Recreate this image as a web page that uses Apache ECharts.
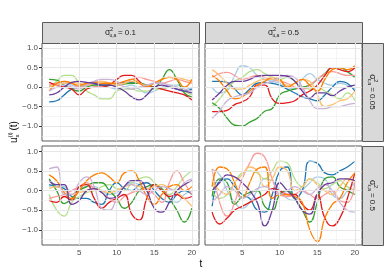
<!DOCTYPE html>
<html><head><meta charset="utf-8">
<script src="https://cdn.jsdelivr.net/npm/echarts@6/dist/echarts.min.js"></script>
<style>html,body{margin:0;padding:0;background:#fff}#c{width:389px;height:275px}</style>
</head><body><div id="c"></div>
<script>
const t = [1,2,3,4,5,6,7,8,9,10,11,12,13,14,15,16,17,18,19,20];
const seriesColors = ['#A6CEE3','#1F78B4','#B2DF8A','#33A02C','#FB9A99','#E31A1C','#FDBF6F','#FF7F00','#CAB2D6','#6A3D9A'];
const colValues = ['0.1','0.5'];
const rowValues = ['0.05','0.5'];
const yTicks = [-1,-0.5,0,0.5,1];
const yMinor = [-1.25,-0.75,-0.25,0.25,0.75];
const xTicks = [5,10,15,20];
const xMinor = [2.5,7.5,12.5,17.5];

// panel: sigma_ua = 0.1, sigma_e = 0.05
const panelTL = [
 [0.05,0.08,0.1,0.05,0.0,0.05,0.1,0.05,0.0,-0.05,0.0,0.05,-0.05,-0.15,-0.1,0.0,0.05,0.05,0.0,-0.05],
 [-0.38,-0.35,-0.2,-0.05,0.0,0.05,0.08,0.05,0.05,0.1,0.12,0.12,0.1,0.05,0.0,-0.02,0.0,-0.05,-0.1,-0.05],
 [0.0,0.15,0.3,0.3,0.1,-0.1,-0.2,-0.3,-0.3,-0.1,-0.05,-0.05,-0.1,-0.1,-0.05,-0.05,0.0,0.0,-0.1,-0.2],
 [0.2,0.18,0.05,-0.05,-0.1,0.0,0.05,0.05,0.05,0.05,0.08,0.1,0.1,0.05,0.0,0.2,0.45,0.2,-0.15,-0.25],
 [0.05,0.1,0.15,0.1,0.0,0.05,0.15,0.15,0.1,0.05,0.1,0.2,0.25,0.2,0.15,0.1,0.15,0.2,0.15,0.1],
 [0.12,0.05,0.0,-0.05,-0.2,-0.05,0.0,0.0,0.05,0.2,0.3,0.3,0.15,0.0,0.0,-0.05,-0.1,-0.15,-0.2,-0.33],
 [0.0,0.05,0.1,0.12,0.1,0.05,0.1,0.15,0.1,0.05,0.1,0.15,0.1,0.05,0.1,0.2,0.25,0.25,0.2,0.15],
 [-0.1,0.1,0.15,0.1,0.05,0.1,0.12,0.1,0.1,0.1,0.15,0.2,0.1,0.0,0.1,0.2,0.25,0.2,0.0,0.2],
 [-0.1,0.0,0.05,0.0,-0.05,0.05,0.15,0.2,0.2,0.15,0.0,-0.05,0.0,0.05,0.1,0.1,0.05,0.0,-0.05,-0.1],
 [-0.2,-0.15,0.0,0.12,0.15,0.12,0.1,0.05,0.05,0.0,-0.1,-0.25,-0.33,-0.2,0.0,0.05,0.0,-0.05,-0.1,-0.15]
];
// panel: sigma_ua = 0.5, sigma_e = 0.05
const panelTR = [
 [0.0,-0.15,-0.1,0.3,0.55,0.5,0.3,0.2,0.15,0.1,0.0,-0.05,0.2,0.35,0.2,0.1,0.05,0.1,0.05,-0.05],
 [0.15,0.15,0.12,-0.05,-0.2,-0.05,0.1,0.12,0.1,0.05,-0.05,-0.15,-0.25,-0.3,-0.35,-0.2,0.0,0.15,0.1,-0.1],
 [-0.5,-0.3,-0.05,0.15,0.25,0.4,0.45,0.35,0.25,0.2,0.25,0.15,0.0,-0.05,0.0,-0.1,-0.2,-0.3,-0.15,-0.35],
 [-0.4,-0.55,-0.8,-0.98,-1.0,-0.9,-0.8,-0.62,-0.55,-0.2,-0.1,-0.05,0.0,0.05,0.2,0.35,0.5,0.5,0.4,0.25],
 [0.25,0.35,0.38,0.3,0.2,0.25,0.3,0.25,0.2,0.15,0.1,0.0,-0.05,0.05,0.2,0.35,0.4,0.35,0.3,0.3],
 [-0.63,-0.63,-0.6,-0.45,-0.38,-0.25,0.05,0.05,-0.3,-0.42,-0.4,-0.35,-0.2,-0.1,0.05,0.3,0.5,0.45,0.4,0.5],
 [0.45,0.3,0.1,-0.05,-0.05,0.05,0.15,0.2,0.2,0.15,0.05,0.1,0.2,0.15,-0.2,-0.5,-0.45,-0.35,-0.3,-0.1],
 [0.3,0.15,-0.1,-0.3,-0.25,-0.1,0.05,0.15,0.25,0.2,0.0,0.1,0.2,0.05,-0.1,0.2,0.45,0.5,0.45,0.55],
 [-0.8,-0.6,-0.35,-0.25,-0.2,-0.15,0.0,0.1,0.15,0.25,0.3,0.25,0.0,-0.35,-0.55,-0.55,-0.5,-0.5,-0.45,-0.42],
 [-0.33,-0.15,0.05,0.15,0.15,0.2,0.28,0.3,0.3,0.3,0.28,0.15,-0.1,-0.28,-0.15,-0.15,-0.22,-0.1,0.0,0.05]
];
// panel: sigma_ua = 0.1, sigma_e = 0.5
const panelBL = [
 [0.1,0.15,0.1,0.0,0.05,0.1,0.1,0.0,-0.1,-0.05,0.1,0.2,0.15,0.05,0.1,0.05,-0.2,-0.3,-0.1,0.0],
 [0.15,0.1,0.05,-0.15,-0.2,-0.2,-0.3,-0.35,0.0,0.2,0.05,0.0,0.15,0.2,0.0,-0.2,-0.3,-0.1,0.0,-0.1],
 [-0.1,-0.5,-0.65,-0.3,-0.15,-0.05,0.0,0.1,0.15,0.05,0.0,0.2,0.3,0.35,0.2,0.0,-0.1,0.1,0.35,0.5],
 [0.3,0.0,-0.33,-0.2,0.0,0.1,0.2,0.2,0.0,-0.2,-0.45,-0.3,0.0,0.1,0.15,0.05,-0.2,-0.5,-0.8,-0.45],
 [-0.2,-0.15,-0.1,0.0,0.1,0.2,0.05,-0.05,-0.2,-0.3,-0.15,-0.05,0.0,0.05,-0.1,-0.3,0.2,0.5,0.2,-0.1],
 [-0.25,-0.3,-0.15,-0.25,0.1,0.15,-0.2,-0.45,-0.3,-0.2,-0.1,-0.6,-0.75,-0.2,0.15,0.0,-0.15,-0.1,-0.2,-0.15],
 [0.05,0.1,0.0,-0.1,-0.05,0.0,0.05,0.0,-0.05,0.0,0.1,0.15,0.1,0.05,0.1,0.15,0.05,-0.05,-0.2,-0.4],
 [0.4,0.25,-0.05,-0.2,0.0,0.25,0.4,0.45,0.35,0.2,0.45,0.5,0.25,-0.15,-0.35,-0.1,0.1,0.15,0.0,0.1],
 [0.55,0.6,-0.1,-0.1,0.2,0.35,0.1,-0.45,-0.5,-0.2,0.1,0.15,0.0,-0.1,0.0,0.1,0.05,0.0,0.2,0.3],
 [0.25,0.15,0.15,-0.35,-0.25,0.0,0.05,-0.05,-0.2,-0.15,0.1,0.25,0.25,0.0,-0.45,-0.55,-0.3,0.0,0.15,0.25]
];
// panel: sigma_ua = 0.5, sigma_e = 0.5
const panelBR = [
 [0.55,0.4,0.0,-0.3,-0.45,-0.3,0.0,0.3,0.25,0.0,-0.2,-0.25,0.0,0.2,0.35,0.3,-0.1,-0.2,0.0,0.2],
 [-0.4,0.25,0.3,0.1,-0.1,-0.2,-0.5,-0.55,-0.1,0.5,0.6,-0.2,0.0,0.75,0.7,0.45,0.4,0.5,0.6,0.75],
 [0.0,-0.2,-0.1,0.2,0.45,0.5,0.45,0.3,0.5,0.75,0.7,0.3,0.1,0.3,0.2,0.05,0.15,0.25,0.1,0.0],
 [-0.15,0.3,0.2,-0.35,-0.15,-0.05,0.0,-0.4,-0.5,-0.1,0.0,-0.2,-0.5,-0.8,-0.3,0.3,0.35,0.1,0.0,-0.1],
 [0.55,-0.3,-0.65,-0.3,0.3,0.7,0.95,0.85,0.3,-0.1,-0.15,-0.1,0.0,-0.1,-0.2,-0.1,0.0,-0.25,-0.3,0.2],
 [-0.55,-0.85,-0.7,-0.5,-0.4,-0.3,-0.2,-0.1,0.05,0.0,-0.1,-0.1,-0.35,-0.5,-0.1,-0.7,-0.9,-0.7,-0.2,0.45],
 [0.2,0.0,-0.1,0.2,0.4,0.6,0.5,0.1,0.3,0.6,0.5,0.0,0.1,0.3,0.15,0.0,-0.1,0.1,0.3,0.2],
 [0.1,0.6,0.55,0.2,-0.2,0.2,0.55,0.6,-0.2,-0.1,-0.1,-0.15,-0.3,-1.0,-1.3,-0.7,-0.35,-0.2,0.2,0.45],
 [-0.3,-0.1,0.1,0.0,-0.2,-0.1,0.05,0.1,0.0,-0.1,0.0,0.1,0.0,-0.1,0.05,0.15,0.0,-0.3,-0.5,-0.55],
 [0.0,0.2,0.4,0.35,0.2,0.0,-0.3,-0.9,-0.5,0.2,0.0,-0.2,-0.5,-0.6,-0.1,0.15,0.2,0.3,0.3,0.25]
];

const panels = [panelTL, panelTR, panelBL, panelBR];
const gridBoxes = [
  {left:42, top:43, width:157, height:98},
  {left:205, top:43, width:157, height:98},
  {left:42, top:146, width:157, height:99},
  {left:205, top:146, width:157, height:99}
];
const fmtY = v => (v < 0 ? '\u2212' : '') + Math.abs(v).toFixed(1);

const grids = [], xAxes = [], yAxes = [], series = [];
gridBoxes.forEach((g, i) => {
  grids.push(Object.assign({show:true, backgroundColor:'#fff', borderColor:'#5a5a5a', borderWidth:1}, g));
  const bottomRow = i >= 2, leftCol = i % 2 === 0;
  xAxes.push({type:'value', gridIndex:i, min:0.05, max:20.95,
    axisLine:{show:false}, splitLine:{show:false},
    axisTick:{show:bottomRow, customValues:xTicks, length:3, lineStyle:{color:'#333'}},
    axisLabel:{show:bottomRow, customValues:xTicks, color:'#4D4D4D', fontSize:8, margin:4, fontFamily:'Liberation Sans'}});
  yAxes.push({type:'value', gridIndex:i, min:-1.385, max:1.135,
    axisLine:{show:false}, splitLine:{show:false},
    axisTick:{show:leftCol, customValues:yTicks, length:3, lineStyle:{color:'#333'}},
    axisLabel:{show:leftCol, customValues:yTicks, formatter:fmtY, color:'#4D4D4D', fontSize:8, margin:4, fontFamily:'Liberation Sans'}});
  const gl = [];
  xMinor.forEach(v => gl.push({xAxis:v, lineStyle:{color:'#EFEFEF', width:0.6, type:'solid'}}));
  yMinor.forEach(v => gl.push({yAxis:v, lineStyle:{color:'#EFEFEF', width:0.6, type:'solid'}}));
  xTicks.forEach(v => gl.push({xAxis:v, lineStyle:{color:'#E6E6E6', width:1.1, type:'solid'}}));
  yTicks.forEach(v => gl.push({yAxis:v, lineStyle:{color:'#E6E6E6', width:1.1, type:'solid'}}));
  series.push({type:'line', xAxisIndex:i, yAxisIndex:i, data:[], z:1, silent:true,
    markLine:{silent:true, symbol:['none','none'], label:{show:false}, animation:false, data:gl}});
  panels[i].forEach((row, k) => {
    series.push({type:'line', xAxisIndex:i, yAxisIndex:i, z:3,
      data: t.map((x, j) => [x, row[j]]), smooth:0.5, showSymbol:false, silent:true,
      lineStyle:{color:seriesColors[k], width:1.3}, itemStyle:{color:seriesColors[k]}});
  });
});

function sigmaLabel(cx, cy, value, rotation, sub) {
  const w = 10 + value.length * 4.4 + 8;
  const x0 = -w / 2;
  const base = {fill:'#1A1A1A', fontFamily:'Liberation Sans', verticalAlign:'middle', align:'left'};
  return {type:'group', x:cx, y:cy, rotation:rotation, children:[
    {type:'text', x:x0, y:0, style:Object.assign({text:'\u03C3', fontSize:8.5}, base)},
    {type:'text', x:x0+5, y:-3.5, style:Object.assign({text:'2', fontSize:5.5}, base)},
    {type:'text', x:x0+4.5, y:3, style:Object.assign({text:sub, fontSize:5}, base)},
    {type:'text', x:x0+13, y:0, style:Object.assign({text:'= ' + value, fontSize:8}, base)}
  ]};
}

const graphics = [];
// strips
[[42,22,157,21],[205,22,157,21],[362,43,21,98],[362,146,21,99]].forEach(r => {
  graphics.push({type:'rect', shape:{x:r[0]+0.5, y:r[1]+0.5, width:r[2], height:r[3]},
    style:{fill:'#D9D9D9', stroke:'#5a5a5a', lineWidth:1}});
});
graphics.push(sigmaLabel(120.5, 32.5, colValues[0], 0, 'u,a'));
graphics.push(sigmaLabel(283.5, 32.5, colValues[1], 0, 'u,a'));
graphics.push(sigmaLabel(372.5, 92, rowValues[0], -Math.PI/2, '\u03B5,a'));
graphics.push(sigmaLabel(372.5, 195.5, rowValues[1], -Math.PI/2, '\u03B5,a'));
// axis titles
graphics.push({type:'text', x:201, y:264, style:{text:'t', fontSize:10, fill:'#000', fontFamily:'Liberation Sans', align:'center', verticalAlign:'middle'}});
const tb = {fill:'#000', fontFamily:'Liberation Sans', verticalAlign:'middle', align:'left'};
graphics.push({type:'group', x:14, y:143, rotation:Math.PI/2, children:[
  {type:'text', x:0, y:0, style:Object.assign({text:'u', fontSize:10}, tb)},
  {type:'text', x:5.5, y:-4, style:Object.assign({text:'(i)', fontSize:6}, tb)},
  {type:'text', x:5.5, y:3.5, style:Object.assign({text:'x', fontSize:6}, tb)},
  {type:'text', x:12.5, y:0, style:Object.assign({text:'(t)', fontSize:10}, tb)}
]});

const chart = echarts.init(document.getElementById('c'), null, {renderer:'canvas'});
chart.setOption({animation:false, grid:grids, xAxis:xAxes, yAxis:yAxes, series:series, graphic:graphics});
</script></body></html>
